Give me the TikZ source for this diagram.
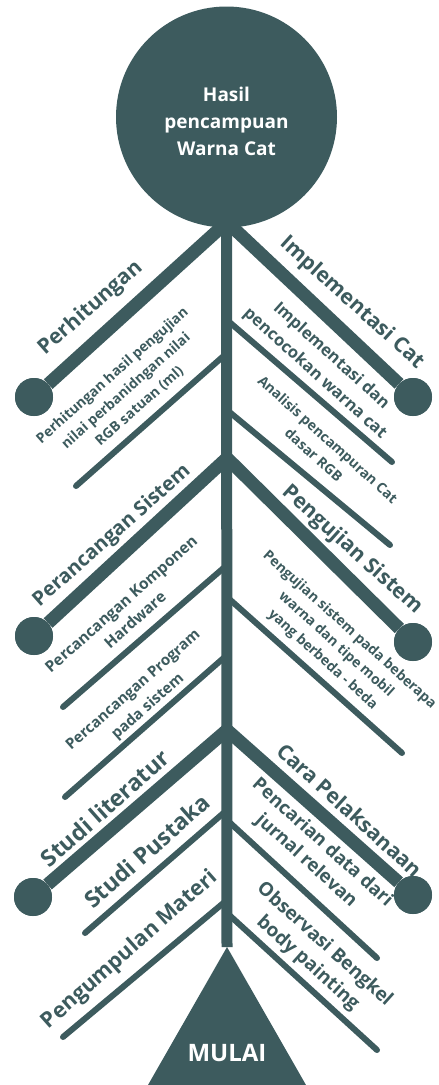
\documentclass[tikz,border=0pt]{standalone}
\usepackage{fontspec}
\setmainfont{Open Sans}
\definecolor{fish}{RGB}{61,91,94}
\newcommand{\fsz}[2]{\fontsize{#1}{#2}\selectfont}
\begin{document}
\begin{tikzpicture}[x=1pt,y=-1pt,
  bone/.style={draw=fish, line width=13pt},
  spinebone/.style={draw=fish, line width=11pt},
  rib/.style={draw=fish, line width=6pt, line cap=round},
  ball/.style={circle, fill=fish, minimum size=38pt, inner sep=0pt},
  cat/.style={text=fish, font=\bfseries\fsz{21}{25}, inner sep=0pt},
  sub/.style={text=fish, font=\bfseries\fsz{14}{20}, align=center, inner sep=0pt},
  lt/.style={rotate=41.5},
  rt/.style={rotate=-42}]
\fill[white] (0,0) rectangle (439,1085);
\useasboundingbox (0,0) rectangle (439,1085);
% junctions
\coordinate (jt) at (227,222);
\coordinate (jm) at (227,458);
\coordinate (jb) at (227,730);
\coordinate (apex) at (227,947);
% balls
\node[ball] (L1) at (34,397) {};
\node[ball] (R1) at (413,397) {};
\node[ball] (L2) at (34,636) {};
\node[ball] (R2) at (413,642) {};
\node[ball] (L3) at (33,897) {};
\node[ball] (R3) at (413,895) {};
% head circle
\node[circle, fill=fish, minimum size=221pt, inner sep=0pt] (head) at (226.5,117) {};
\node[text=white, align=center, font=\bfseries\fsz{19}{27}] (headtext) at (226.5,121) {Hasil\\pencampuan\\Warna Cat};
% start triangle
\fill[fish] (apex) -- (148,1085) -- (306,1085) -- cycle;
\node[text=white, font=\bfseries\fsz{24}{28}] (mulai) at (227,1053) {MULAI};
% spine
\draw[spinebone] (head) -- (apex);
% main bones
\draw[bone] (jt) -- (L1);
\draw[bone] (jt) -- (R1);
\draw[bone] (jm) -- (L2);
\draw[bone] (jm) -- (R2);
\draw[bone] (jb) -- (L3);
\draw[bone] (jb) -- (R3);
% rib end points
\coordinate (a1s) at (227,353); \coordinate (a1e) at (76,486);
\coordinate (b1s) at (227,320); \coordinate (b1e) at (392,462);
\coordinate (b2s) at (227,410); \coordinate (b2e) at (390,545);
\coordinate (a2s) at (227,565); \coordinate (a2e) at (63,707);
\coordinate (a3s) at (227,655); \coordinate (a3e) at (65,797);
\coordinate (b3s) at (227,597); \coordinate (b3e) at (402,753);
\coordinate (a4s) at (227,810); \coordinate (a4e) at (85,933);
\coordinate (a5s) at (227,900); \coordinate (a5e) at (63,1037);
\coordinate (b4s) at (227,820); \coordinate (b4e) at (377,958);
\coordinate (b5s) at (227,913); \coordinate (b5e) at (377,1050);
\draw[rib] (a1s) -- (a1e);
\draw[rib] (b1s) -- (b1e);
\draw[rib] (b2s) -- (b2e);
\draw[rib] (a2s) -- (a2e);
\draw[rib] (a3s) -- (a3e);
\draw[rib] (b3s) -- (b3e);
\draw[rib] (a4s) -- (a4e);
\draw[rib] (a5s) -- (a5e);
\draw[rib] (b4s) -- (b4e);
\draw[rib] (b5s) -- (b5e);
% redraw balls on top
\fill[fish] (L1) circle (19); \fill[fish] (R1) circle (19);
\fill[fish] (L2) circle (19); \fill[fish] (R2) circle (19);
\fill[fish] (L3) circle (19); \fill[fish] (R3) circle (19);
% category labels
\node[cat, lt] (t1) at (91,308) {Perhitungan};
\node[cat, rt] (t2) at (352,303) {Implementasi Cat};
\node[cat, lt, font=\bfseries\fsz{20}{24}] (t3) at (112,536) {Perancangan Sistem};
\node[cat, rt] (t4) at (352,550) {Pengujian Sistem};
\node[cat, lt, font=\bfseries\fsz{23}{27}] (t5) at (105,808) {Studi literatur};
\node[cat, rt] (t6) at (350,810) {Cara Pelaksanaan};
% sub labels
\node[sub, lt, font=\bfseries\fsz{14}{20.5}] (s1) at (126,391) {Perhitungan hasil pengujian\\nilai perbanidngan nilai\\RGB satuan (ml)};
\node[sub, rt, font=\bfseries\fsz{16.5}{24}] (s2) at (323,365) {Implementasi dan\\pencocokan warna cat};
\node[sub, rt, font=\bfseries\fsz{14}{21}] (s3) at (321,447) {Analisis pencampuran Cat\\dasar RGB};
\node[sub, lt, font=\bfseries\fsz{15.5}{21}] (s4) at (128,612) {Percancangan Komponen\\Hardware};
\node[sub, lt, font=\bfseries\fsz{15}{22}] (s5) at (141,699) {Percancangan Program\\pada sistem};
\node[sub, rt, font=\bfseries\fsz{14}{20}] (s6) at (336,645) {Pengujian sistem pada beberapa\\warna dan tipe mobil\\yang berbeda - beda};
\node[sub, lt, font=\bfseries\fsz{23}{27}] (s7) at (147,851) {Studi Pustaka};
\node[sub, rt, font=\bfseries\fsz{18.5}{24}] (s8) at (314,852) {Pencarian data dari\\jurnal relevan};
\node[sub, lt, font=\bfseries\fsz{21.5}{26}] (s9) at (130,950) {Pengumpulan Materi};
\node[sub, rt, font=\bfseries\fsz{19}{25}] (s10) at (316,954) {Observasi Bengkel\\body painting};
\end{tikzpicture}
\end{document}
